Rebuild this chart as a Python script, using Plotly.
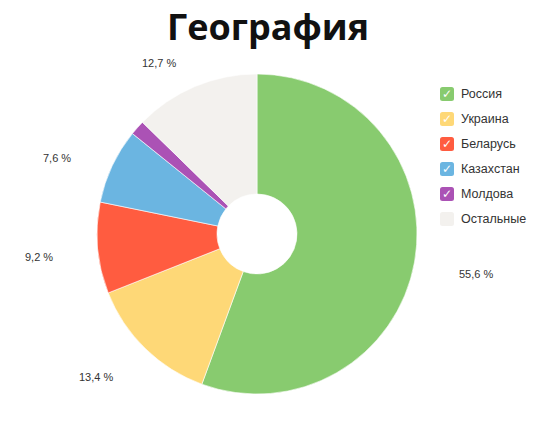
import math
import plotly.graph_objects as go

categories = ["Россия", "Украина", "Беларусь", "Казахстан", "Молдова", "Остальные"]
values = [55.6, 13.4, 9.2, 7.6, 1.5, 12.7]
colors = ["#88CB6F", "#FED877", "#FF5C40", "#6BB5E1", "#AB52B5", "#F3F1EE"]
title_text = "География"

W, H = 536, 441
cx, cy, R = 257, 234, 160

def px(x):
    return x / W

def py(y):
    return 1 - y / H

fig = go.Figure()
fig.add_trace(go.Pie(
    labels=categories, values=values, sort=False, direction="clockwise",
    rotation=0, hole=0.25,
    marker=dict(colors=colors, line=dict(color="white", width=0.6)),
    textinfo="none", hoverinfo="label+percent", showlegend=False,
    domain=dict(x=[px(cx - R), px(cx + R)], y=[py(cy + R), py(cy - R)]),
))

annotations = []
# slice labels
total = sum(values)
cum = 0
rx, ry, lcy = 203, 192, 240
for cat, v in zip(categories, values):
    mid = (cum + v / 2) / total * 2 * math.pi
    cum += v
    if v / total < 0.02:
        continue
    lx = cx + rx * math.sin(mid)
    ly = lcy - ry * math.cos(mid)
    annotations.append(dict(
        x=px(lx), y=py(ly), xref="paper", yref="paper",
        text=f"{v:.1f}".replace(".", ",") + " %", showarrow=False,
        xanchor="left" if math.sin(mid) > 0 else "right", yanchor="middle",
        font=dict(family="Liberation Sans, Arial", size=11, color="#333333"),
    ))

# title
annotations.append(dict(
    x=px(268), y=py(27), xref="paper", yref="paper", text=f"<b>{title_text}</b>",
    showarrow=False, xanchor="center", yanchor="middle", borderpad=0,
    font=dict(family="Open Sans", size=36, color="#111111"),
))

# legend (manual, with checkbox squares)
shapes = []
lx0, ly0, step, sz = 440, 94, 25, 14
for i, (cat, col) in enumerate(zip(categories, colors)):
    yc = ly0 + i * step
    x0, x1 = lx0, lx0 + sz
    y0, y1 = yc - sz / 2, yc + sz / 2
    r = 2.5
    path = (f"M {px(x0 + r)} {py(y0)} L {px(x1 - r)} {py(y0)} Q {px(x1)} {py(y0)} {px(x1)} {py(y0 + r)} "
            f"L {px(x1)} {py(y1 - r)} Q {px(x1)} {py(y1)} {px(x1 - r)} {py(y1)} "
            f"L {px(x0 + r)} {py(y1)} Q {px(x0)} {py(y1)} {px(x0)} {py(y1 - r)} "
            f"L {px(x0)} {py(y0 + r)} Q {px(x0)} {py(y0)} {px(x0 + r)} {py(y0)} Z")
    shapes.append(dict(type="path", path=path, xref="paper", yref="paper",
                       fillcolor=col, line=dict(width=0)))
    if cat != "Остальные":
        annotations.append(dict(
            x=px(lx0 + sz / 2), y=py(yc), xref="paper", yref="paper", text="✓",
            showarrow=False, xanchor="center", yanchor="middle",
            font=dict(family="DejaVu Sans", size=12, color="white"),
        ))
    annotations.append(dict(
        x=px(lx0 + sz + 5), y=py(yc), xref="paper", yref="paper", text=cat,
        showarrow=False, xanchor="left", yanchor="middle",
        font=dict(family="Liberation Sans, Arial", size=12.5, color="#333333"),
    ))

fig.update_layout(
    width=W, height=H, margin=dict(l=0, r=0, t=0, b=0),
    paper_bgcolor="white", plot_bgcolor="white",
    annotations=annotations, shapes=shapes, showlegend=False,
)
fig.write_html("out.html", config={"displayModeBar": False},
               post_script="document.body.style.margin='0';document.body.style.overflow='hidden';")
